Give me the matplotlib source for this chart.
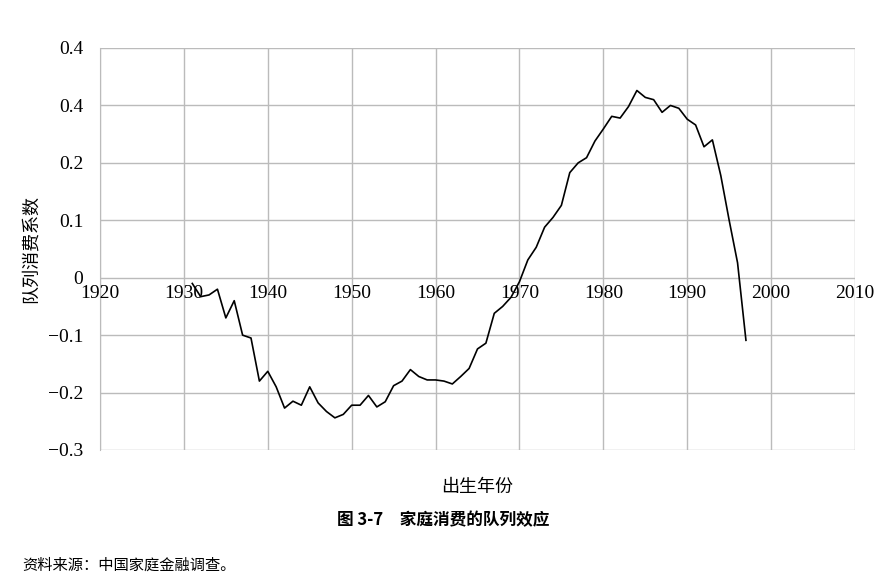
import matplotlib
matplotlib.use("Agg")
import matplotlib.pyplot as plt

years = list(range(1931, 1998))
values = [-0.01,-0.033,-0.03,-0.02,-0.07,-0.04,-0.1,-0.105,-0.18,-0.163,-0.19,-0.227,-0.215,-0.222,-0.19,-0.218,
          -0.233,-0.244,-0.238,-0.222,-0.222,-0.205,-0.225,-0.216,-0.188,-0.18,-0.16,-0.172,-0.178,-0.178,-0.18,
          -0.185,-0.172,-0.158,-0.124,-0.114,-0.062,-0.05,-0.034,-0.007,0.031,0.053,0.088,0.105,0.126,0.183,0.2,
          0.209,0.238,0.259,0.281,0.278,0.298,0.326,0.314,0.31,0.288,0.3,0.295,0.276,0.266,0.228,0.24,0.178,
          0.1,0.026,-0.109]
xticks = [1920,1930,1940,1950,1960,1970,1980,1990,2000,2010]
yticks = [0.4,0.3,0.2,0.1,0,-0.1,-0.2,-0.3]
ytick_labels = ["0.4","0.4","0.2","0.1","0","\u22120.1","\u22120.2","\u22120.3"]

cjk = ['Noto Sans CJK SC','DejaVu Sans']
serif = 'Liberation Serif'

fig = plt.figure(figsize=(8.87,5.88), dpi=100)
ax = fig.add_axes([100/887, 1-450/588, 755/887, 402/588])
ax.plot(years, values, color='black', lw=1.2)
ax.set_xlim(1920, 2010)
ax.set_ylim(-0.3, 0.4)
ax.set_xticks(xticks)
ax.set_yticks(yticks)
ax.set_yticklabels(ytick_labels, fontfamily=serif, fontsize=14)
ax.set_xticklabels([])
ax.grid(True, color='#bbbbbb', lw=1)
ax.tick_params(length=0, pad=12)
for s in ax.spines.values():
    s.set_visible(False)
ax.spines['left'].set_visible(True); ax.spines['left'].set_color('#bbbbbb')
for x in xticks:
    ax.text(x, -0.012, str(x), ha='center', va='top', fontfamily=serif, fontsize=14)
ax.set_ylabel('队列消费系数', fontfamily=cjk, fontsize=13, labelpad=6)
ax.set_xlabel('出生年份', fontfamily=cjk, fontsize=13, labelpad=8)
fig.text(0.5, 1-520/588, '图 3-7　家庭消费的队列效应', ha='center', va='center',
         fontfamily=cjk, fontsize=12, fontweight='bold')
fig.text(22/887, 1-565/588, '资料来源：中国家庭金融调查。', ha='left', va='center',
         fontfamily=cjk, fontsize=11)
fig.savefig('out.png', dpi=100)
